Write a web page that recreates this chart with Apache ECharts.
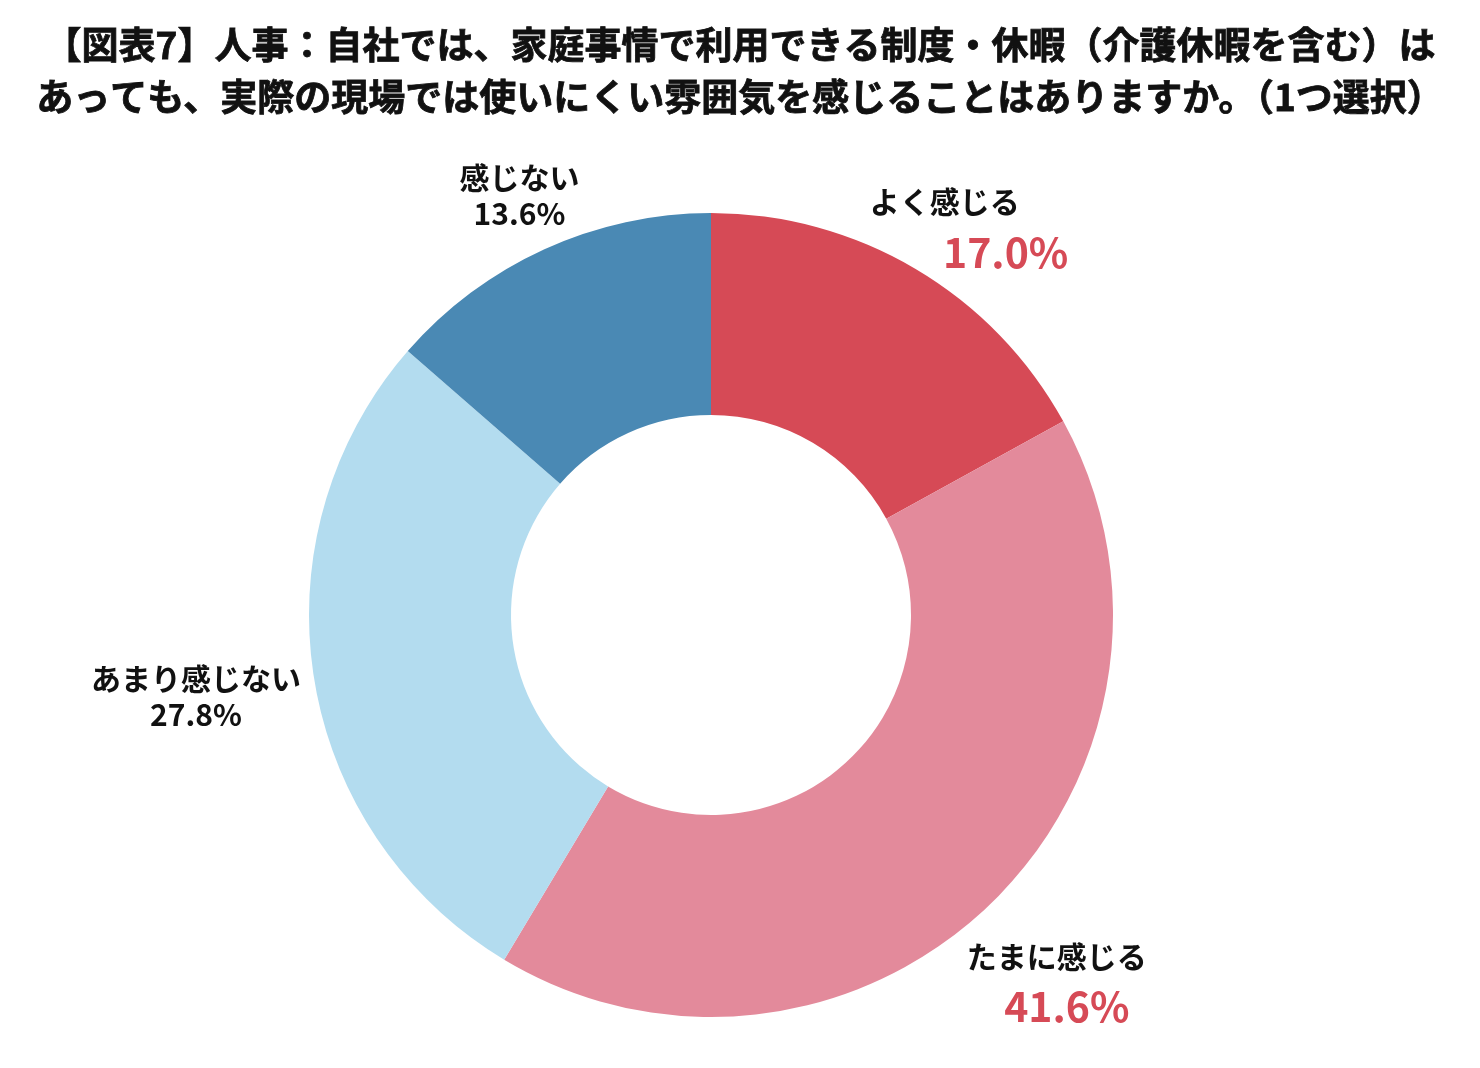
<!DOCTYPE html>
<html>
<head>
<meta charset="utf-8">
<script src="https://cdn.jsdelivr.net/npm/echarts@6/dist/echarts.min.js"></script>
<style>
html,body{margin:0;padding:0;background:#fff;}
#chart{width:1480px;height:1068px;}
</style>
</head>
<body>
<div id="chart"></div>
<script>
const titleLines = [
  '【図表7】人事：自社では、家庭事情で利用できる制度・休暇（介護休暇を含む）は',
  'あっても、実際の現場では使いにくい雰囲気を感じることはありますか。（1つ選択）'
];
const categories = ['よく感じる', 'たまに感じる', 'あまり感じない', '感じない'];
const values = [17.0, 41.6, 27.8, 13.6];

const colors = ['#D64A56', '#E38A9B', '#B3DCEF', '#4A89B4'];
const pctStyle = ['pa', 'pb', 'q', 'q'];
const shift = [[29, -39], [67, 80], [-118, 19], [-25, -54]];

const chart = echarts.init(document.getElementById('chart'), null, {renderer: 'canvas'});
const font = '"Noto Sans CJK JP", "Noto Sans", sans-serif';

chart.setOption({
  backgroundColor: '#ffffff',
  animation: false,
  title: {
    text: titleLines.join('\n'),
    left: 'center',
    top: 14,
    textStyle: {
      fontFamily: font,
      fontSize: 37,
      fontWeight: 'bold',
      color: '#111111',
      textBorderColor: '#111111',
      textBorderWidth: 0.8,
      lineHeight: 52
    }
  },
  series: [{
    type: 'pie',
    center: [711, 615],
    radius: [200, 402],
    startAngle: 90,
    clockwise: true,
    avoidLabelOverlap: false,
    itemStyle: {borderWidth: 0},
    emphasis: {disabled: true},
    labelLine: {show: false, length: 0, length2: 0},
    label: {
      show: true,
      position: 'outside',
      distanceToLabelLine: 0,
      fontFamily: font,
      formatter: function (p) {
        return '{n|' + p.name + '}\n{' + pctStyle[p.dataIndex] + '|' + p.value.toFixed(1) + '%}';
      },
      rich: {
        n: {fontFamily: font, fontSize: 30, fontWeight: 'bold', color: '#111111', lineHeight: 36, align: 'center'},
        q: {fontFamily: font, fontSize: 30, fontWeight: 'bold', color: '#111111', lineHeight: 36, align: 'center'},
        pa: {fontFamily: font, fontSize: 41, fontWeight: 'bold', color: '#D64A56', lineHeight: 56, align: 'center', padding: [0, 0, 0, 122]},
        pb: {fontFamily: font, fontSize: 41, fontWeight: 'bold', color: '#D64A56', lineHeight: 56, align: 'center', padding: [0, 0, 0, 20]}
      }
    },
    labelLayout: function (params) {
      const s = shift[params.dataIndex];
      return {dx: s[0], dy: s[1], align: 'center', verticalAlign: 'middle'};
    },
    data: categories.map(function (c, i) {
      const item = {name: c, value: values[i], itemStyle: {color: colors[i]}};
      if (i < 2) {
        item.label = {rich: {n: {lineHeight: 44}}};
      }
      return item;
    })
  }]
});
</script>
</body>
</html>
